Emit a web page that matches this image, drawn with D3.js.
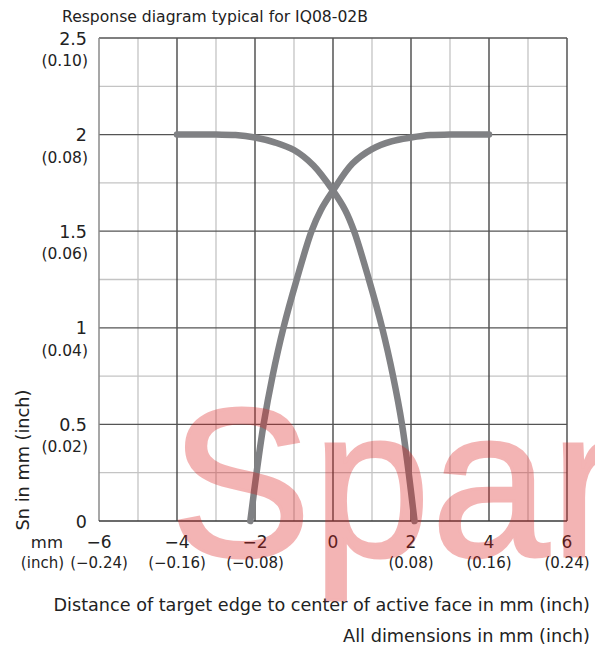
<!DOCTYPE html>
<html><head><meta charset="utf-8">
<script src="https://cdn.jsdelivr.net/npm/d3@7"></script>
<style>
html,body{margin:0;padding:0;background:#fff;}
svg{display:block;font-family:"DejaVu Sans",sans-serif;}
</style></head>
<body>
<svg id="c" width="595" height="651"></svg>
<script>
// ---- data ----
const title = "Response diagram typical for IQ08-02B";
const xTicksMm = [-6, -4, -2, 0, 2, 4, 6];
const xTickMmLabels = ["\u22126", "\u22124", "\u22122", "0", "2", "4", "6"];
const xTickInchLabels = ["(\u22120.24)", "(\u22120.16)", "(\u22120.08)", "", "(0.08)", "(0.16)", "(0.24)"];
const yTicks = [0, 0.5, 1, 1.5, 2, 2.5];
const yTickMmLabels = ["0", "0.5", "1", "1.5", "2", "2.5"];
const yTickInchLabels = ["", "(0.02)", "(0.04)", "(0.06)", "(0.08)", "(0.10)"];
// falling curve (left plateau, down to the right)
const fallX = [-4, -3, -2.5, -2, -1.5, -1, -0.5, 0, 0.31, 0.54, 0.92, 1.26, 1.54, 1.77, 1.94, 2.09];
const fallY = [2.0, 2.0, 1.998, 1.985, 1.96, 1.92, 1.84, 1.71, 1.61, 1.5, 1.25, 1.0, 0.75, 0.5, 0.25, 0];
// rising curve (bottom left, up to the right plateau)
const riseX = [-2.12, -1.96, -1.78, -1.55, -1.27, -0.93, -0.55, -0.31, 0, 0.5, 1, 1.5, 2, 2.5, 3, 4];
const riseY = [0, 0.25, 0.5, 0.75, 1.0, 1.25, 1.5, 1.61, 1.71, 1.85, 1.925, 1.965, 1.985, 1.998, 2.0, 2.0];
const xTitle = "Distance of target edge to center of active face in mm (inch)";
const yTitle = "Sn in mm (inch)";
const note = "All dimensions in mm (inch)";
const watermark = "Spar";

// ---- drawing ----
const svg = d3.select("#c");
const x = d3.scaleLinear().domain([-6, 6]).range([99, 567]);
const y = d3.scaleLinear().domain([0, 2.5]).range([521, 38]);

function fit(sel, targetW) {
  const s = parseFloat(sel.attr("font-size"));
  const w = sel.node().getComputedTextLength();
  sel.attr("font-size", (s * targetW / w).toFixed(2));
  return sel;
}

const g = svg.append("g");
const minorX = d3.range(-5, 6, 2);
const minorY = d3.range(0.25, 2.5, 0.5);
g.selectAll(".mvx").data(minorX).join("line")
  .attr("x1", d => x(d)).attr("x2", d => x(d)).attr("y1", y(0)).attr("y2", y(2.5))
  .attr("stroke", "#c4c4c4").attr("stroke-width", 1.3);
g.selectAll(".mhy").data(minorY).join("line")
  .attr("y1", d => y(d)).attr("y2", d => y(d)).attr("x1", x(-6)).attr("x2", x(6))
  .attr("stroke", "#c4c4c4").attr("stroke-width", 1.3);
g.selectAll(".Mvx").data(xTicksMm.filter(d => d > -6)).join("line")
  .attr("x1", d => x(d)).attr("x2", d => x(d)).attr("y1", y(0)).attr("y2", y(2.5))
  .attr("stroke", "#3a3a3a").attr("stroke-width", 1.3);
g.selectAll(".Mhy").data(yTicks.filter(d => d > 0)).join("line")
  .attr("y1", d => y(d)).attr("y2", d => y(d)).attr("x1", x(-6)).attr("x2", x(6))
  .attr("stroke", "#555").attr("stroke-width", 1.3);
g.append("line").attr("x1", x(-6)).attr("x2", x(-6)).attr("y1", y(0)).attr("y2", y(2.5))
  .attr("stroke", "#8a8a8a").attr("stroke-width", 1.5);
g.append("line").attr("x1", x(-6)).attr("x2", x(6)).attr("y1", y(0)).attr("y2", y(0))
  .attr("stroke", "#3a3a3a").attr("stroke-width", 1.3);

// curves
const line = d3.line().x(d => x(d[0])).y(d => y(d[1])).curve(d3.curveCatmullRom.alpha(0.5));
const curves = [d3.zip(fallX, fallY), d3.zip(riseX, riseY)];
svg.selectAll(".curve").data(curves).join("path")
  .attr("d", line).attr("fill", "none").attr("stroke", "#808184")
  .attr("stroke-width", 6.5).attr("stroke-linecap", "round").attr("stroke-linejoin", "round");

// y tick labels
const yl = svg.append("g").attr("fill", "#222").attr("text-anchor", "end");
yl.selectAll(".ym").data(yTicks).join("text")
  .attr("x", 87).attr("y", d => y(d) + 6.5).attr("font-size", 17.5)
  .text((d, i) => yTickMmLabels[i]);
yl.selectAll(".yi").data(yTicks).join("text")
  .attr("x", 88).attr("y", d => y(d) + 28).attr("font-size", 15.5)
  .text((d, i) => yTickInchLabels[i]);

// x tick labels
const xl = svg.append("g").attr("fill", "#222").attr("text-anchor", "middle");
xl.selectAll(".xm").data(xTicksMm).join("text")
  .attr("x", d => x(d)).attr("y", 548).attr("font-size", 17)
  .text((d, i) => xTickMmLabels[i]);
xl.selectAll(".xi").data(xTicksMm).join("text")
  .attr("x", d => x(d)).attr("y", 568).attr("font-size", 15)
  .text((d, i) => xTickInchLabels[i]);
svg.append("text").attr("x", 63).attr("y", 548).attr("text-anchor", "end")
  .attr("font-size", 16.5).attr("fill", "#222").text("mm");
svg.append("text").attr("x", 64).attr("y", 568).attr("text-anchor", "end")
  .attr("font-size", 15).attr("fill", "#222").text("(inch)");

// titles
fit(svg.append("text").attr("x", 62).attr("y", 22).attr("font-size", 16).attr("fill", "#222").text(title), 306);
fit(svg.append("text").attr("transform", "translate(29,460) rotate(-90)").attr("text-anchor", "middle")
  .attr("font-size", 16).attr("fill", "#222").text(yTitle), 141);
fit(svg.append("text").attr("x", 590).attr("y", 611).attr("text-anchor", "end")
  .attr("font-size", 16).attr("fill", "#222").text(xTitle), 537);
fit(svg.append("text").attr("x", 590).attr("y", 642).attr("text-anchor", "end")
  .attr("font-size", 16).attr("fill", "#222").text(note), 247);

// watermark
svg.append("g").attr("opacity", 0.33).append("text")
  .attr("x", 170).attr("y", 556).attr("font-size", 212)
  .attr("font-family", "Liberation Sans, Arial, sans-serif")
  .attr("fill", "rgb(220,30,30)").attr("stroke", "rgb(220,30,30)").attr("stroke-width", 3)
  .attr("letter-spacing", 1).text(watermark);
</script>
</body></html>
